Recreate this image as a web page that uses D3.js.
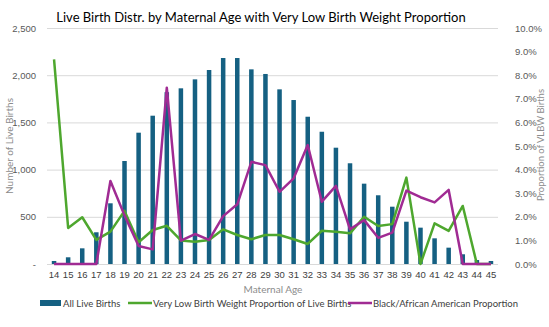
<!DOCTYPE html>
<html>
<head>
<meta charset="utf-8">
<script src="https://cdn.jsdelivr.net/npm/d3@7"></script>
<style>
  body { margin: 0; background: #fff; }
  svg { font-family: Lato, sans-serif; }
</style>
</head>
<body>
<svg width="549" height="327"></svg>
<script>
var ages = ['14','15','16','17','18','19','20','21','22','23','24','25','26','27','28','29','30',
            '31','32','33','34','35','36','37','38','39','40','41','42','43','44','45'];
var liveBirths = [32, 71, 166, 336, 643, 1091, 1391, 1571, 1820, 1861, 1956, 2055, 2182, 2182, 2062, 2013, 1850,
                  1737, 1560, 1401, 1232, 1067, 851, 728, 607, 448, 385, 272, 173, 103, 42, 32];
var vlbwProp = [8.67, 1.53, 1.98, 1.02, 1.37, 2.25, 0.92, 1.44, 1.62, 1.0, 0.94, 1.02, 1.47, 1.23, 1.05, 1.23, 1.23,
                1.05, 0.85, 1.41, 1.37, 1.30, 2.0, 1.61, 1.69, 3.66, 0, 1.72, 1.40, 2.46, 0, 0];
var blackProp = [0, 0, 0, 0, 3.52, 2.06, 0.76, 0.62, 7.47, 0.99, 1.27, 1.02, 2.03, 2.53, 4.33, 4.19, 3.06,
                 3.63, 5.04, 2.64, 3.31, 1.47, 1.86, 1.11, 1.33, 3.11, 2.83, 2.61, 3.14, 0, 0, 0];
var leftTicks = [0, 500, 1000, 1500, 2000, 2500];
var rightTicks = [0, 1, 2, 3, 4, 5, 6, 7, 8, 9, 10];

var svg = d3.select('svg');
var plotLeft = 47, plotRight = 498, plotTop = 28, plotBottom = 264;

var ScaleX = d3.scaleBand().domain(ages).range([plotLeft, plotRight]).paddingInner(0.68).paddingOuter(0.34);
var ScaleY = d3.scaleLinear().domain([0, 2500]).range([plotBottom, plotTop]);
var ScaleP = d3.scaleLinear().domain([0, 10]).range([plotBottom, plotTop]);
var cx = function(a){ return ScaleX(a) + ScaleX.bandwidth() / 2; };

// gridlines + left labels
svg.append('g')
    .attr('transform', 'translate(' + plotLeft + ',0)')
    .call(d3.axisLeft(ScaleY).tickValues(leftTicks).tickSize(-(plotRight - plotLeft)).tickFormat(function(d){
        return d === 0 ? '-' : d3.format(',')(d);
    }))
    .call(function(g){
        g.select('.domain').remove();
        g.selectAll('line').attr('stroke', '#d9d9d9').attr('stroke-width', 1);
        g.selectAll('text').attr('fill', '#595959').attr('font-size', 9.5).attr('x', -11);
    });

svg.append('g')
    .attr('transform', 'translate(' + plotRight + ',0)')
    .call(d3.axisRight(ScaleP).tickValues(rightTicks).tickSize(0).tickFormat(function(d){
        return d.toFixed(1) + '%';
    }))
    .call(function(g){
        g.select('.domain').remove();
        g.selectAll('text').attr('fill', '#595959').attr('font-size', 9.5).attr('x', 17);
    });

// bars
svg.selectAll('rect.bar')
    .data(ages)
    .enter()
    .append('rect')
    .attr('class', 'bar')
    .attr('x', function(d){ return ScaleX(d); })
    .attr('width', ScaleX.bandwidth())
    .attr('y', function(d, i){ return ScaleY(liveBirths[i]); })
    .attr('height', function(d, i){ return plotBottom - ScaleY(liveBirths[i]); })
    .attr('fill', '#156082');

// lines
var line = d3.line()
    .x(function(d, i){ return cx(ages[i]); })
    .y(function(d){ return ScaleP(d); });

svg.append('path')
    .datum(vlbwProp)
    .attr('d', line)
    .attr('fill', 'none')
    .attr('stroke', '#4ea72e')
    .attr('stroke-width', 2.5)
    .attr('stroke-linejoin', 'round');

svg.append('path')
    .datum(blackProp)
    .attr('d', line)
    .attr('fill', 'none')
    .attr('stroke', '#a02b93')
    .attr('stroke-width', 2.5)
    .attr('stroke-linejoin', 'round');

// x axis labels
svg.append('g')
    .attr('transform', 'translate(0,' + plotBottom + ')')
    .call(d3.axisBottom(ScaleX).tickSize(0))
    .call(function(g){
        g.select('.domain').remove();
        g.selectAll('text').attr('fill', '#404040').attr('font-size', 9.5).attr('dy', '1.15em');
    });

// titles
svg.append('text')
    .attr('x', 261)
    .attr('y', 22)
    .attr('text-anchor', 'middle')
    .attr('font-size', 13)
    .attr('fill', '#000')
    .text('Live Birth Distr. by Maternal Age with Very Low Birth Weight Proportion');

svg.append('text')
    .attr('x', 273)
    .attr('y', 293)
    .attr('text-anchor', 'middle')
    .attr('font-size', 10)
    .attr('fill', '#8c8c8c')
    .text('Maternal Age');

svg.append('text')
    .attr('transform', 'rotate(270)')
    .attr('x', -146)
    .attr('y', 13)
    .attr('text-anchor', 'middle')
    .attr('font-size', 10)
    .attr('fill', '#8c8c8c')
    .text('Number of Live Births');

svg.append('text')
    .attr('transform', 'rotate(270)')
    .attr('x', -145)
    .attr('y', 544)
    .attr('text-anchor', 'middle')
    .attr('font-size', 9.5)
    .attr('fill', '#8c8c8c')
    .text('Proportion of VLBW Births');

// legend
var legendY = 303;
svg.append('rect').attr('x', 40).attr('y', legendY - 3).attr('width', 21).attr('height', 6).attr('fill', '#156082');
svg.append('text').attr('x', 63).attr('y', legendY + 3.5).attr('font-size', 9.5).attr('fill', '#404040').text('All Live Births');
svg.append('line').attr('x1', 128).attr('x2', 152).attr('y1', legendY).attr('y2', legendY)
    .attr('stroke', '#4ea72e').attr('stroke-width', 2.5);
svg.append('text').attr('x', 153).attr('y', legendY + 3.5).attr('font-size', 9.5).attr('fill', '#404040')
    .text('Very Low Birth Weight Proportion of Live Births');
svg.append('line').attr('x1', 348).attr('x2', 372).attr('y1', legendY).attr('y2', legendY)
    .attr('stroke', '#a02b93').attr('stroke-width', 2.5);
svg.append('text').attr('x', 373).attr('y', legendY + 3.5).attr('font-size', 9.5).attr('fill', '#404040')
    .text('Black/African American Proportion');
</script>
</body>
</html>
